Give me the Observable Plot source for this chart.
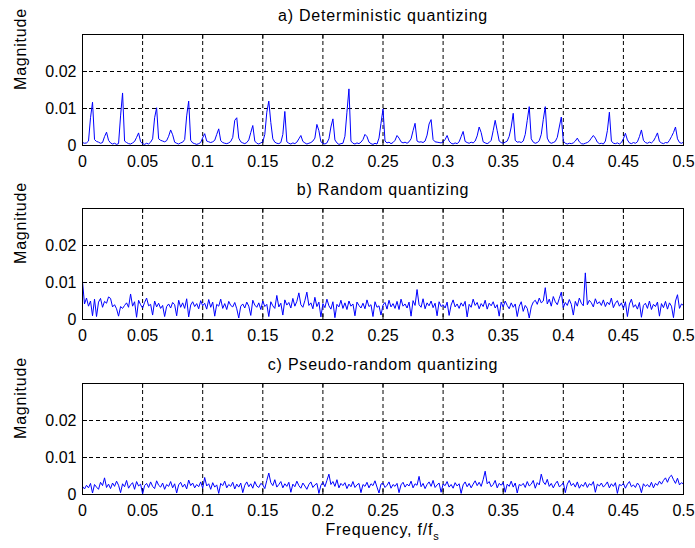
<!DOCTYPE html>
<html><head><meta charset="utf-8">
<script src="https://cdn.jsdelivr.net/npm/d3@7"></script>
<script src="https://cdn.jsdelivr.net/npm/@observablehq/plot@0.6"></script>
<style>
body{margin:0;background:#fff}
#chart{width:695px;height:548px;position:relative;background:#fff}
#chart svg{display:block}
</style></head><body><div id="chart"></div>
<script>
// Magnitude spectra, sampled on a uniform frequency grid from 0 to 0.5 f/fs
const magA = [.0008,.0006,.0007,.0012,.0075,.0117,.0016,.0011,.0009,.0006,
.0008,.0024,.0036,.0014,.0007,.0004,.0006,.0003,.0005,.0080,
.0142,.0012,.0008,.0005,.0004,.0007,.0011,.0022,.0034,.0010,
.0005,.0003,.0006,.0004,.0009,.0018,.0075,.0102,.0018,.0014,
.0012,.0010,.0013,.0025,.0042,.0029,.0009,.0006,.0004,.0007,
.0009,.0016,.0080,.0120,.0014,.0007,.0005,.0003,.0005,.0008,
.0021,.0032,.0012,.0010,.0008,.0010,.0014,.0030,.0045,.0013,
.0008,.0006,.0005,.0007,.0011,.0022,.0068,.0075,.0020,.0010,
.0007,.0005,.0008,.0015,.0035,.0054,.0012,.0006,.0004,.0007,
.0010,.0030,.0090,.0120,.0062,.0018,.0009,.0006,.0005,.0008,
.0030,.0092,.0010,.0006,.0004,.0007,.0005,.0009,.0018,.0027,
.0011,.0007,.0004,.0006,.0008,.0012,.0020,.0057,.0040,.0010,
.0006,.0004,.0007,.0018,.0050,.0072,.0015,.0007,.0003,.0005,
.0006,.0025,.0090,.0153,.0012,.0006,.0004,.0007,.0005,.0009,
.0016,.0030,.0024,.0009,.0005,.0003,.0006,.0004,.0020,.0060,
.0099,.0012,.0007,.0009,.0005,.0008,.0014,.0027,.0020,.0010,
.0007,.0009,.0006,.0010,.0018,.0040,.0060,.0012,.0009,.0010,
.0008,.0012,.0028,.0058,.0070,.0016,.0010,.0009,.0008,.0007,
.0010,.0016,.0027,.0012,.0006,.0004,.0007,.0005,.0010,.0024,
.0038,.0011,.0008,.0006,.0009,.0007,.0012,.0026,.0050,.0035,
.0010,.0007,.0005,.0008,.0014,.0040,.0068,.0040,.0012,.0008,
.0006,.0009,.0012,.0025,.0050,.0087,.0014,.0009,.0010,.0008,
.0012,.0030,.0068,.0105,.0018,.0009,.0006,.0008,.0013,.0030,
.0070,.0105,.0020,.0009,.0006,.0008,.0011,.0022,.0050,.0077,
.0012,.0006,.0004,.0006,.0005,.0007,.0012,.0020,.0010,.0005,
.0004,.0006,.0008,.0012,.0020,.0027,.0020,.0009,.0005,.0006,
.0004,.0012,.0040,.0090,.0012,.0006,.0005,.0007,.0004,.0008,
.0018,.0033,.0015,.0007,.0005,.0008,.0006,.0010,.0024,.0042,
.0014,.0008,.0006,.0009,.0007,.0012,.0022,.0034,.0011,.0007,
.0005,.0008,.0007,.0014,.0024,.0035,.0050,.0018,.0008,.0006,
.0009];
const magB = [.0103,.0042,.0058,.0036,.0050,.0010,.0055,.0008,.0047,.0057,
.0033,.0049,.0044,.0061,.0057,.0034,.0040,.0029,.0009,.0035,
.0030,.0038,.0045,.0033,.0069,.0036,.0048,.0006,.0052,.0040,
.0031,.0046,.0058,.0037,.0041,.0012,.0050,.0034,.0044,.0030,
.0038,.0008,.0035,.0042,.0031,.0046,.0040,.0010,.0052,.0033,
.0045,.0030,.0056,.0007,.0039,.0048,.0035,.0043,.0029,.0051,
.0037,.0044,.0028,.0054,.0033,.0047,.0009,.0041,.0036,.0055,
.0030,.0043,.0027,.0049,.0038,.0034,.0046,.0029,.0004,.0036,
.0042,.0031,.0047,.0036,.0011,.0052,.0039,.0033,.0045,.0027,
.0050,.0035,.0041,.0008,.0048,.0037,.0030,.0065,.0034,.0044,
.0012,.0053,.0039,.0046,.0031,.0057,.0036,.0049,.0072,.0040,
.0033,.0051,.0074,.0038,.0045,.0029,.0060,.0035,.0047,.0007,
.0043,.0032,.0055,.0037,.0028,.0048,.0005,.0041,.0034,.0052,
.0030,.0045,.0027,.0050,.0036,.0042,.0010,.0047,.0038,.0031,
.0044,.0029,.0053,.0035,.0040,.0008,.0048,.0033,.0037,.0012,
.0039,.0046,.0028,.0052,.0034,.0043,.0030,.0049,.0027,.0055,
.0036,.0042,.0031,.0047,.0009,.0051,.0038,.0081,.0040,.0033,
.0056,.0029,.0045,.0037,.0050,.0032,.0044,.0010,.0048,.0035,
.0040,.0031,.0047,.0011,.0039,.0053,.0034,.0042,.0030,.0045,
.0036,.0049,.0007,.0041,.0033,.0055,.0038,.0046,.0029,.0043,
.0035,.0052,.0028,.0044,.0037,.0048,.0031,.0040,.0009,.0047,
.0034,.0050,.0038,.0029,.0045,.0033,.0042,.0008,.0036,.0048,
.0022,.0038,.0030,.0004,.0034,.0047,.0052,.0041,.0058,.0045,
.0050,.0086,.0042,.0055,.0036,.0062,.0048,.0040,.0057,.0074,
.0032,.0046,.0038,.0054,.0041,.0012,.0049,.0036,.0058,.0044,
.0037,.0126,.0040,.0052,.0045,.0034,.0056,.0042,.0048,.0038,
.0053,.0035,.0047,.0040,.0058,.0032,.0044,.0051,.0036,.0045,
.0030,.0048,.0008,.0042,.0055,.0033,.0040,.0028,.0046,.0006,
.0038,.0044,.0030,.0050,.0027,.0041,.0035,.0047,.0009,.0043,
.0032,.0049,.0028,.0045,.0036,.0005,.0050,.0067,.0030,.0042,
.0038];
const magC = [.0022,.0015,.0025,.0018,.0030,.0004,.0027,.0020,.0014,.0033,
.0024,.0045,.0019,.0028,.0016,.0031,.0022,.0036,.0025,.0005,
.0029,.0021,.0038,.0017,.0026,.0032,.0014,.0035,.0023,.0028,
.0002,.0024,.0030,.0019,.0034,.0022,.0016,.0037,.0025,.0020,
.0031,.0014,.0027,.0022,.0035,.0018,.0029,.0004,.0026,.0033,
.0020,.0028,.0015,.0039,.0024,.0031,.0018,.0027,.0021,.0034,
.0017,.0046,.0023,.0029,.0014,.0032,.0020,.0026,.0003,.0030,
.0024,.0036,.0018,.0027,.0022,.0033,.0015,.0028,.0020,.0031,
.0005,.0025,.0034,.0021,.0029,.0017,.0035,.0023,.0019,.0030,
.0026,.0016,.0038,.0058,.0032,.0024,.0040,.0020,.0027,.0035,
.0018,.0029,.0022,.0033,.0006,.0028,.0021,.0036,.0024,.0017,
.0031,.0023,.0014,.0027,.0034,.0019,.0026,.0030,.0003,.0025,
.0033,.0021,.0038,.0055,.0027,.0035,.0022,.0040,.0018,.0030,
.0024,.0032,.0016,.0028,.0021,.0035,.0019,.0026,.0030,.0005,
.0027,.0022,.0033,.0018,.0029,.0024,.0037,.0020,.0004,.0028,
.0031,.0019,.0025,.0034,.0017,.0027,.0022,.0030,.0005,.0026,
.0033,.0020,.0028,.0023,.0036,.0018,.0029,.0025,.0049,.0021,
.0030,.0016,.0027,.0034,.0022,.0038,.0019,.0026,.0031,.0006,
.0028,.0024,.0035,.0020,.0027,.0017,.0032,.0023,.0029,.0003,
.0026,.0034,.0021,.0030,.0018,.0028,.0037,.0024,.0033,.0022,
.0040,.0063,.0029,.0035,.0021,.0027,.0038,.0018,.0030,.0025,
.0033,.0006,.0028,.0022,.0036,.0020,.0031,.0004,.0027,.0024,
.0030,.0019,.0035,.0023,.0028,.0038,.0017,.0032,.0026,.0055,
.0034,.0027,.0041,.0022,.0030,.0018,.0029,.0036,.0021,.0025,
.0032,.0005,.0028,.0038,.0024,.0030,.0020,.0034,.0017,.0027,
.0022,.0033,.0019,.0029,.0025,.0035,.0006,.0028,.0023,.0031,
.0020,.0026,.0034,.0018,.0029,.0022,.0032,.0003,.0027,.0024,
.0030,.0017,.0028,.0035,.0021,.0026,.0019,.0031,.0024,.0005,
.0029,.0022,.0027,.0020,.0033,.0018,.0030,.0025,.0036,.0028,
.0038,.0045,.0033,.0047,.0052,.0040,.0030,.0044,.0026,.0032,
.0028];

const titles = ["a) Deterministic quantizing", "b) Random quantizing", "c) Pseudo-random quantizing"];
const yLabel = "Magnitude";
const xLabel = "Frequency, f/f";
const xLabelSub = "s";
const fMax = 0.5;
const xTicks = [0, 0.05, 0.1, 0.15, 0.2, 0.25, 0.3, 0.35, 0.4, 0.45, 0.5];
const xTickLabels = ["0", "0.05", "0.1", "0.15", "0.2", "0.25", "0.3", "0.35", "0.4", "0.45", "0.5"];
const yTicks = [0, 0.01, 0.02];
const yTickLabels = ["0", "0.01", "0.02"];
const yDomain = [0, 0.03];

const FONT = "'Liberation Sans', Arial, Helvetica, sans-serif";

function panel(values, title, height, marginTop, marginBottom) {
  const data = values.map((m, i) => ({f: i * fMax / (values.length - 1), m}));
  const ph = height - marginTop - marginBottom;
  const pw = 695 - 82 - 12;
  const svg = Plot.plot({
    width: 695, height,
    marginLeft: 82, marginRight: 12, marginTop, marginBottom,
    style: {fontFamily: FONT, fontSize: "16px", color: "#000", background: "#fff", overflow: "visible"},
    x: {domain: [0, fMax]},
    y: {domain: yDomain},
    marks: [
      Plot.gridX(xTicks, {x: d => d, stroke: "#000", strokeOpacity: 1, strokeWidth: 1, strokeDasharray: "4,3"}),
      Plot.gridY(yTicks, {y: d => d, stroke: "#000", strokeOpacity: 1, strokeWidth: 1, strokeDasharray: "4,3"}),
      Plot.tickX(xTicks, {x: d => d, insetTop: ph - 5, stroke: "#000"}),
      Plot.tickX(xTicks, {x: d => d, insetBottom: ph - 5, stroke: "#000"}),
      Plot.tickY(yTicks, {y: d => d, insetRight: pw - 5, stroke: "#000"}),
      Plot.tickY(yTicks, {y: d => d, insetLeft: pw - 5, stroke: "#000"}),
      Plot.line(data, {x: "f", y: "m", stroke: "#0000ff", strokeWidth: 1}),
      Plot.frame({stroke: "#000", strokeWidth: 1}),
      Plot.axisX({ticks: xTicks, tickFormat: d => xTickLabels[xTicks.indexOf(d)], tickSize: 0, tickPadding: 10, label: null, fontSize: 16}),
      Plot.axisY({ticks: yTicks, tickFormat: d => yTickLabels[yTicks.indexOf(d)], tickSize: 0, tickPadding: 6, label: null, fontSize: 16}),
      Plot.text([title], {frameAnchor: "top", dy: -14, lineAnchor: "bottom", fontSize: 16, fill: "#000"}),
      Plot.text([yLabel], {frameAnchor: "left", rotate: -90, dx: -57, lineAnchor: "bottom", fontSize: 16, fill: "#000"})
    ]
  });
  d3.select(svg).selectAll("text")
    .filter(function() { return this.textContent === title || this.textContent === yLabel; })
    .attr("letter-spacing", "0.8px");
  return svg;
}

const chart = document.getElementById("chart");
chart.appendChild(panel(magA, titles[0], 175, 34, 30));
chart.appendChild(panel(magB, titles[1], 174, 33, 30));
const svgC = panel(magC, titles[2], 199, 34, 54);
const t = d3.select(svgC).append("text")
  .attr("x", 82 + (695 - 82 - 12) / 2).attr("y", 186)
  .attr("text-anchor", "middle")
  .attr("font-family", FONT).attr("font-size", 16)
  .attr("letter-spacing", "0.8px").attr("fill", "#000");
t.append("tspan").text(xLabel);
t.append("tspan").attr("font-size", 11).attr("dy", 5).text(xLabelSub);
chart.appendChild(svgC);
</script></body></html>
